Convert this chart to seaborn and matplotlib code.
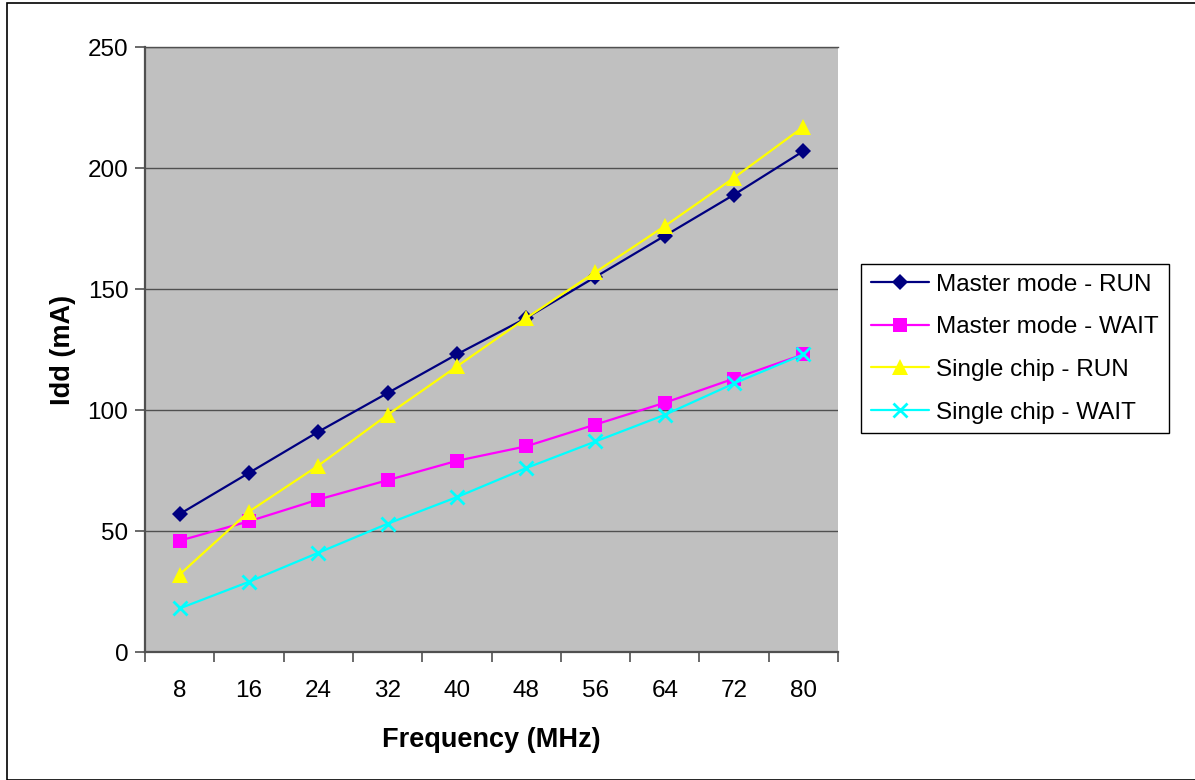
import seaborn as sns
import matplotlib.pyplot as plt
import pandas as pd
from matplotlib.patches import Rectangle

# Données
freq = [8, 16, 24, 32, 40, 48, 56, 64, 72, 80]
master_run = [57, 74, 91, 107, 123, 138, 155, 172, 189, 207]
master_wait = [46, 54, 63, 71, 79, 85, 94, 103, 113, 123]
single_run = [32, 58, 77, 98, 118, 138, 157, 176, 196, 217]
single_wait = [18, 29, 41, 53, 64, 76, 87, 98, 111, 123]

series = ['Master mode - RUN', 'Master mode - WAIT', 'Single chip - RUN', 'Single chip - WAIT']
df = pd.DataFrame({
    'freq': freq * 4,
    'idd': master_run + master_wait + single_run + single_wait,
    'serie': sum([[s] * len(freq) for s in series], []),
})

palette = {series[0]: '#000080', series[1]: '#FF00FF', series[2]: '#FFFF00', series[3]: '#00FFFF'}
markers = {series[0]: 'D', series[1]: 's', series[2]: '^', series[3]: 'x'}
sizes_mk = {series[0]: 8.5, series[1]: 10.5, series[2]: 11.5, series[3]: 10}

sns.set_style('white')
plt.rcParams['font.family'] = ['Liberation Sans', 'DejaVu Sans']
plt.rcParams['text.color'] = 'black'
plt.rcParams['axes.labelcolor'] = 'black'
plt.rcParams['xtick.labelcolor'] = 'black'
plt.rcParams['ytick.labelcolor'] = 'black'

fig = plt.figure(figsize=(11.95, 7.8), dpi=100)
ax = fig.add_axes([0.1213, 0.1641, 0.58, 0.7756])
ax.set_facecolor('#C0C0C0')

for s in series:
    sub = df[df['serie'] == s]
    sns.lineplot(data=sub, x='freq', y='idd', ax=ax, color=palette[s], marker=markers[s],
                 markersize=sizes_mk[s], markeredgecolor=palette[s], markeredgewidth=2 if s == series[3] else 0,
                 linewidth=1.6, label=s)

ax.set_xlim(4, 84)
ax.set_ylim(0, 250)
ax.set_xticks(freq)
ax.set_xticks([f - 4 for f in freq] + [84], minor=True)
ax.set_yticks([0, 50, 100, 150, 200, 250])
ax.tick_params(axis='x', which='major', length=0, labelsize=17.5, pad=20)
ax.tick_params(axis='x', which='minor', length=7, width=1.2, color='#505050', direction='out')
ax.tick_params(axis='y', which='major', length=7, width=1.2, color='#505050', direction='out', labelsize=17.5, pad=5)
ax.tick_params(bottom=True, left=True, which='both')
ax.grid(axis='y', color='#505050', linewidth=1)
ax.set_axisbelow(True)

for side in ['left', 'bottom']:
    ax.spines[side].set_color('#505050')
    ax.spines[side].set_linewidth(1.6)
ax.spines['top'].set_color('#505050')
ax.spines['top'].set_linewidth(1)
ax.spines['right'].set_visible(False)

ax.set_xlabel('Frequency (MHz)', fontsize=19.5, fontweight='bold', labelpad=18)
ax.set_ylabel('Idd (mA)', fontsize=19.5, fontweight='bold', labelpad=8)

leg = ax.legend(loc='center left', bbox_to_anchor=(0.7205, 0.553), bbox_transform=fig.transFigure,
                fontsize=17.5, frameon=True, fancybox=False, edgecolor='black', framealpha=1,
                handlelength=2.4, labelspacing=0.85, borderpad=0.4, handletextpad=0.3,
                borderaxespad=0)
leg.get_frame().set_linewidth(1)

# cadre autour de la figure
fig.patches.append(Rectangle((0.006, 0.0), 1.2, 0.996, transform=fig.transFigure,
                             fill=False, edgecolor='black', linewidth=1.2))

plt.savefig('out.png', dpi=100)
